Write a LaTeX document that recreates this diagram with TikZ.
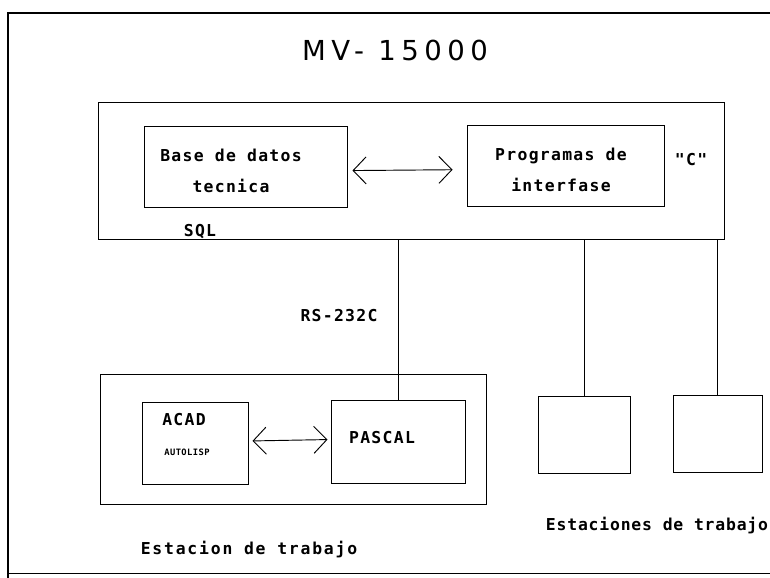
\documentclass[tikz,border=0pt]{standalone}
\usepackage{fontspec}
\newfontfamily\plotfont{DejaVu Sans Mono}[LetterSpace=8]
\newfontfamily\widefont{DejaVu Sans Mono}[LetterSpace=11]
\newfontfamily\narrowfont{DejaVu Sans Mono}[LetterSpace=5]
\newfontfamily\titlefont{DejaVu Sans}[LetterSpace=20]
\usepackage{tikz}
\usetikzlibrary{arrows.meta}

\begin{document}
\begin{tikzpicture}[x=0.03cm,y=-0.03cm,line width=0.8pt,
  font=\plotfont\bfseries\fontsize{14}{26.5}\selectfont,
  box/.style={draw,inner sep=0pt},
  label/.style={inner sep=0pt,align=center},
  twoway/.style={{Straight Barb[length=3.9mm,width=8.1mm]}-{Straight Barb[length=3.9mm,width=8.1mm]}}]
\useasboundingbox (0,0) rectangle (770,578);
\draw[line width=1.2pt] (770,13) -- (8,13) -- (8,578);
\draw (8,573) -- (770,573);
\node[label,font=\titlefont\fontsize{23.5}{26}\selectfont] (title) at (395,50) {MV- 15000};
\node[box,minimum width=18.78cm,minimum height=4.11cm] (mv) at (411,170.5) {};
\node[box,minimum width=6.09cm,minimum height=2.43cm] (bd) at (245.5,166.5) {};
\node[label] (bdtext) at (231,171) {Base de datos\\tecnica};
\node[box,minimum width=5.91cm,minimum height=2.43cm] (pi) at (565.5,165.5) {};
\node[label] (pitext) at (561,170) {Programas de\\interfase};
\node[label] (lang) at (691,160) {"C"};
\node[label] (sql) at (200,232) {SQL};
\draw[twoway,shorten <=0.15cm,shorten >=0.42cm] ([yshift=-3.5pt]bd.east) -- ([yshift=-3.5pt]pi.west);
\node[label] (rs) at (339,316) {RS-232C};
\node[box,minimum width=11.58cm,minimum height=3.9cm] (ws) at (293,439) {};
\node[box,minimum width=3.18cm,minimum height=2.46cm] (acad) at (195,443) {};
\node[label] (acadtext) at (184,420) {ACAD};
\node[label,font=\narrowfont\bfseries\fontsize{7.5}{8}\selectfont] (lisp) at (187,452) {AUTOLISP};
\node[box,minimum width=4.02cm,minimum height=2.49cm] (pascal) at (398,441.5) {};
\node[label] (pascaltext) at (382,438) {PASCAL};
\draw[twoway,shorten <=0.12cm,shorten >=0.09cm] ([yshift=1.7pt]acad.east) -- ([yshift=1.7pt]pascal.west);
\draw (pascal.north) -- (pascal.north |- mv.south);
\node[box,minimum width=2.76cm,minimum height=2.31cm] (st1) at (584,434.5) {};
\node[box,minimum width=2.67cm,minimum height=2.31cm] (st2) at (717.5,433.5) {};
\draw (st1.north) -- (st1.north |- mv.south);
\draw (st2.north) -- (st2.north |- mv.south);
\node[label,font=\widefont\bfseries\fontsize{14}{15}\selectfont] (wsname) at (249,550) {Estacion de trabajo};
\node[label,font=\narrowfont\bfseries\fontsize{14}{15}\selectfont] (stname) at (657,526) {Estaciones de trabajo};
\end{tikzpicture}
\end{document}
